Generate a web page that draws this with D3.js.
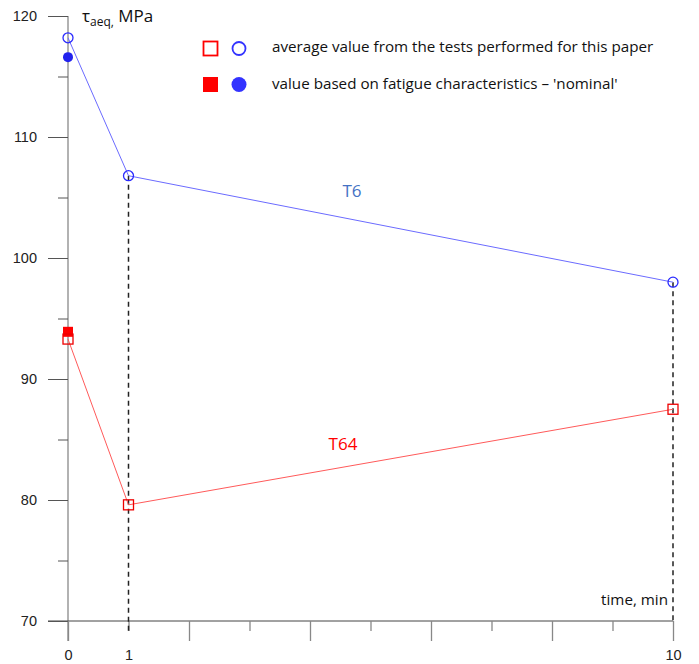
<!DOCTYPE html>
<html><head><meta charset="utf-8">
<script src="https://cdn.jsdelivr.net/npm/d3@7"></script>
<style>body{margin:0;background:#fff}svg{display:block}</style>
</head><body>
<svg id="c" width="699" height="664"></svg>
<script>
// ---- data ----
const times = [0, 1, 10];
const t6Tests = [118.2, 106.8, 98.0];
const t64Tests = [93.3, 79.6, 87.5];
const t6Nominal = [{t: 0, v: 116.6}];
const t64Nominal = [{t: 0, v: 93.9}];
const yMajorTicks = [70, 80, 90, 100, 110, 120];
const yMinorTicks = [75, 85, 95, 105, 115];
const xMajorTicks = [0, 2, 4, 6, 8, 10];
const xMinorTicks = [1, 3, 5, 7, 9];
const xLabeled = [0, 1, 10];
const legendItems = ["average value from the tests performed for this paper",
                     "value based on fatigue characteristics \u2013 'nominal'"];

const svg = d3.select("#c");
const x = d3.scaleLinear().domain([0, 10]).range([68, 673]);
const y = d3.scaleLinear().domain([70, 120]).range([621, 16]);
const numFont = "'Liberation Sans', Arial, sans-serif";
const txtFont = "'Open Sans', sans-serif";

// y axis line (extends below x axis)
svg.append("line").attr("x1", x(0)).attr("x2", x(0)).attr("y1", y(120)).attr("y2", y(70) + 20)
  .attr("stroke", "#999").attr("stroke-width", 1.5);
// x axis line
svg.append("line").attr("x1", x(0) - 20).attr("x2", x(10)).attr("y1", y(70)).attr("y2", y(70))
  .attr("stroke", "#444").attr("stroke-width", 1);

// y axis major
const yAx = svg.append("g").attr("transform", `translate(${x(0)},0)`)
  .call(d3.axisLeft(y).tickValues(yMajorTicks).tickSize(20).tickPadding(11).tickFormat(d3.format("d")));
yAx.select(".domain").remove();
yAx.selectAll("line").attr("stroke", "#555");
yAx.selectAll("text").attr("font-family", numFont).attr("font-size", 14.5).attr("fill", "#222");
// y axis minor
const yMin = svg.append("g").attr("transform", `translate(${x(0)},0)`)
  .call(d3.axisLeft(y).tickValues(yMinorTicks).tickSize(10).tickFormat(""));
yMin.select(".domain").remove();
yMin.selectAll("line").attr("stroke", "#555");

// x axis major
const xAx = svg.append("g").attr("transform", `translate(0,${y(70)})`)
  .call(d3.axisBottom(x).tickValues(xMajorTicks).tickSize(20).tickPadding(9)
    .tickFormat(d => xLabeled.includes(d) ? d : ""));
xAx.select(".domain").remove();
xAx.selectAll("line").attr("stroke", "#888").attr("stroke-width", 1.3);
xAx.selectAll("text").attr("font-family", numFont).attr("font-size", 14.5).attr("fill", "#222");
const xMin = svg.append("g").attr("transform", `translate(0,${y(70)})`)
  .call(d3.axisBottom(x).tickValues(xMinorTicks).tickSize(10).tickPadding(19)
    .tickFormat(d => xLabeled.includes(d) ? d : ""));
xMin.select(".domain").remove();
xMin.selectAll("line").attr("stroke", "#888").attr("stroke-width", 1.3);
xMin.selectAll("text").attr("font-family", numFont).attr("font-size", 14.5).attr("fill", "#222");

// dashed verticals at t=1 and t=10
[[1, t6Tests[1], y(70) + 10], [10, t6Tests[2], y(70)]].forEach(([t, v, yEnd]) => {
  svg.append("line").attr("x1", x(t)).attr("x2", x(t)).attr("y1", y(v)).attr("y2", yEnd)
    .attr("stroke", "#222").attr("stroke-width", 1.5).attr("stroke-dasharray", "5,4");
});

// lines
const line = d3.line().x(d => x(d[0])).y(d => y(d[1]));
svg.append("path").datum(times.map((t, i) => [t, t6Tests[i]])).attr("d", line)
  .attr("fill", "none").attr("stroke", "#6b6bff").attr("stroke-width", 1);
svg.append("path").datum(times.map((t, i) => [t, t64Tests[i]])).attr("d", line)
  .attr("fill", "none").attr("stroke", "#ff5a5a").attr("stroke-width", 1);

// nominal markers
svg.selectAll(".nomSq").data(t64Nominal).join("rect")
  .attr("x", d => x(d.t) - 5).attr("y", d => y(d.v) - 5).attr("width", 10).attr("height", 10)
  .attr("fill", "#ff0000");
svg.selectAll(".nomC").data(t6Nominal).join("circle")
  .attr("cx", d => x(d.t)).attr("cy", d => y(d.v)).attr("r", 5).attr("fill", "#2222ee");

// test markers
svg.selectAll(".tSq").data(times.map((t, i) => [t, t64Tests[i]])).join("rect")
  .attr("x", d => x(d[0]) - 5).attr("y", d => y(d[1]) - 5).attr("width", 10).attr("height", 10)
  .attr("fill", "none").attr("stroke", "#ee0000").attr("stroke-width", 1.3);
svg.selectAll(".tC").data(times.map((t, i) => [t, t6Tests[i]])).join("circle")
  .attr("cx", d => x(d[0])).attr("cy", d => y(d[1])).attr("r", 5)
  .attr("fill", "none").attr("stroke", "#2a2aff").attr("stroke-width", 1.3);

// series labels
svg.append("text").attr("x", 352).attr("y", 197).attr("text-anchor", "middle")
  .attr("font-family", txtFont).attr("font-size", 17).attr("fill", "#4472c4").text("T6");
svg.append("text").attr("x", 343).attr("y", 450).attr("text-anchor", "middle")
  .attr("font-family", txtFont).attr("font-size", 17).attr("fill", "#ff0000").text("T64");

// y title
const yt = svg.append("text").attr("x", 82).attr("y", 22).attr("font-family", txtFont)
  .attr("font-size", 17).attr("fill", "#111");
yt.append("tspan").text("\u03c4");
yt.append("tspan").attr("font-size", 12).attr("dy", 4).text("aeq,");
yt.append("tspan").attr("dy", -4).text(" MPa");

// x title
svg.append("text").attr("x", 668).attr("y", 605).attr("text-anchor", "end")
  .attr("font-family", txtFont).attr("font-size", 15.2).attr("fill", "#111").text("time, min");

// legend
const lg = svg.append("g");
lg.append("rect").attr("x", 203.5).attr("y", 41.5).attr("width", 14).attr("height", 14)
  .attr("fill", "none").attr("stroke", "#ff0000").attr("stroke-width", 1.8);
lg.append("circle").attr("cx", 239).attr("cy", 48.5).attr("r", 6.5)
  .attr("fill", "none").attr("stroke", "#3333ff").attr("stroke-width", 1.8);
lg.append("rect").attr("x", 203).attr("y", 77).attr("width", 15).attr("height", 15).attr("fill", "#ff0000");
lg.append("circle").attr("cx", 239).attr("cy", 84.5).attr("r", 7.5).attr("fill", "#3333ff");
lg.selectAll("text.l").data(legendItems).join("text")
  .attr("x", 272).attr("y", (d, i) => 51.5 + i * 37.5)
  .attr("font-family", txtFont).attr("font-size", 15.2).attr("fill", "#111").text(d => d);
</script>
</body></html>
